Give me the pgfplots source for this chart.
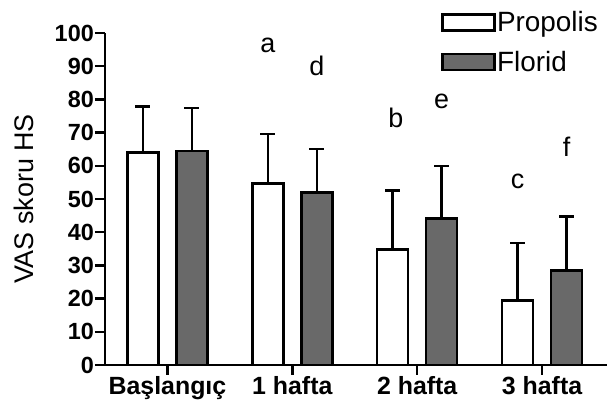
\documentclass[border=0pt]{standalone}
\usepackage{pgfplots}
\pgfplotsset{compat=1.18}
\usepackage{pgfplotstable}
\usepackage{fontspec}
\setmainfont{Liberation Sans}
\definecolor{barg}{RGB}{105,105,105}

\pgfplotstableread{
x y e
-0.196 64.0 13.9
0.804 54.6 15.0
1.804 34.8 17.7
2.804 19.4 17.3
}\propolis
\pgfplotstableread{
x y e
0.196 64.5 12.9
1.196 51.9 13.1
2.196 44.2 15.8
3.196 28.4 16.3
}\florid

\begin{document}
\begin{tikzpicture}
\path[use as bounding box] (0bp,0bp) rectangle (607bp,405bp);
\begin{axis}[
  at={(105bp,40bp)}, anchor=south west,
  scale only axis, width=502bp, height=332bp,
  xmin=-0.5, xmax=3.52, ymin=0, ymax=100,
  axis lines*=left,
  axis line style={line width=2.8bp, -},
  ytick={0,10,...,100},
  xtick={0,1,2,3},
  xticklabels={Başlangıç,1 hafta,2 hafta,3 hafta},
  tick style={line width=2.5bp, black},
  major tick length=10bp,
  tick align=outside,
  /pgf/number format/assume math mode=true,
  yticklabel style={font=\fontsize{23.5}{23.5}\selectfont\bfseries, inner xsep=1bp},
  xticklabel style={font=\fontsize{25}{25}\selectfont\bfseries, inner ysep=1bp},
  ylabel={VAS skoru HS},
  ylabel style={font=\fontsize{27}{27}\selectfont, at={(axis description cs:-0.161,0.5)}, anchor=center},
  ybar, bar width=31bp, bar shift=0pt,
  error bars/y dir=plus, error bars/y explicit,
  error bars/error bar style={line width=2.5bp, black},
  error bars/error mark options={rotate=90, line width=2.5bp, black, mark size=7.5bp},
  legend image code/.code={\draw[#1, line width=2.5bp] (0bp,-8bp) rectangle (52bp,8bp);},
  legend cell align=left,
  legend style={font=\fontsize{28}{28}\selectfont, draw=none, fill=none, inner sep=0pt,
    at={(0.669,1.07)}, anchor=north west, row sep=15bp,
    nodes={inner sep=1.5bp}},
  clip=false,
]
\addplot[fill=white, draw=black, line width=2.5bp] table[x=x, y=y, y error=e]{\propolis};
\addlegendentry{Propolis}
\addplot[fill=barg, draw=black, line width=2.5bp] table[x=x, y=y, y error=e]{\florid};
\addlegendentry{Florid}
\begin{scope}[every node/.style={font=\fontsize{27}{27}\selectfont, anchor=base}]
\node at (axis cs:0.804,94) {a};
\node at (axis cs:1.196,87.3) {d};
\node at (axis cs:1.83,71.4) {b};
\node at (axis cs:2.196,77.4) {e};
\node at (axis cs:2.804,53.3) {c};
\node at (axis cs:3.196,62.7) {f};
\end{scope}
\end{axis}
\end{tikzpicture}
\end{document}
